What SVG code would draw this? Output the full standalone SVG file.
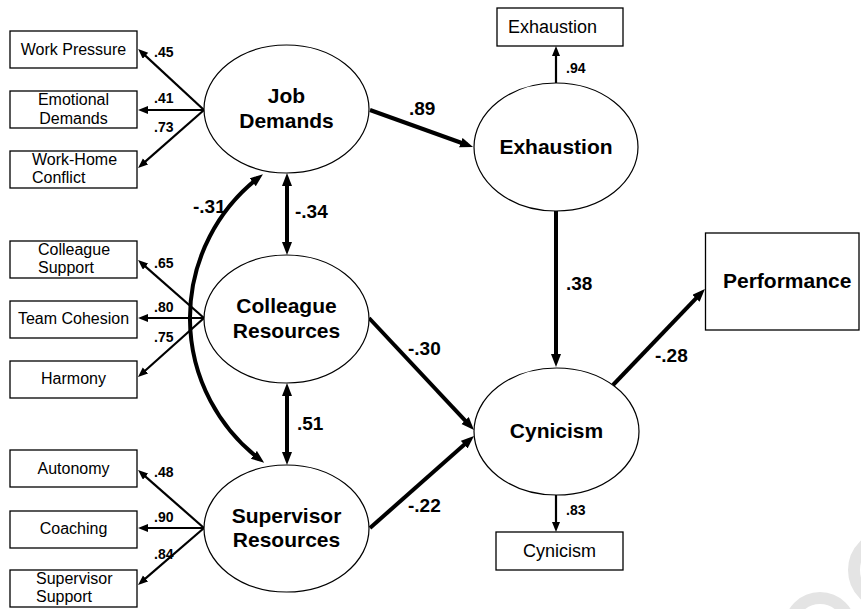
<svg xmlns="http://www.w3.org/2000/svg" width="861" height="609" viewBox="0 0 861 609">
<style>
text{font-family:"Liberation Sans",Arial,sans-serif;fill:#000}
.box{fill:#fff;stroke:#000;stroke-width:1.3}
.lat{fill:#fff;stroke:#000;stroke-width:1.2}
.ind{font-size:16px}
.ind2{font-size:18px}
.latt{font-size:21px;font-weight:bold;text-anchor:middle}
.perf{font-size:21px;font-weight:bold}
.ws{font-size:14px;font-weight:bold}
.wb{font-size:19px;font-weight:bold}
.thin{fill:none;stroke:#000;stroke-width:2.2;marker-end:url(#ahs)}
.thick{fill:none;stroke:#000;stroke-width:4;marker-end:url(#ah)}
.dbl{fill:none;stroke:#000;stroke-width:4;marker-start:url(#ah);marker-end:url(#ah)}
.wm{fill:none;stroke:#e4e4e4;stroke-width:12}
</style>
<defs>
<marker id="ah" markerUnits="userSpaceOnUse" markerWidth="14" markerHeight="11" refX="7" refY="5" orient="auto-start-reverse">
<path d="M0,0 L13,5 L0,10 z" fill="#000"/>
</marker>
<marker id="ahs" markerUnits="userSpaceOnUse" markerWidth="11" markerHeight="9" refX="5" refY="4" orient="auto-start-reverse">
<path d="M0,0 L10,4 L0,8 z" fill="#000"/>
</marker>
</defs>
<rect width="861" height="609" fill="#fff"/>
<g id="watermark">
<circle class="wm" cx="820" cy="628" r="30"/>
<circle class="wm" cx="888" cy="570" r="34"/>
</g>
<g id="connectors">
<path class="thin" d="M204,110 L141.8,52.4"/>
<path class="thin" d="M204,110 L143,110"/>
<path class="thin" d="M204,110 L141.8,164.7"/>
<path class="thin" d="M204,318 L141.8,263.3"/>
<path class="thin" d="M204,318 L143,318"/>
<path class="thin" d="M204,318 L141.7,373.7"/>
<path class="thin" d="M204,528 L141.8,473.3"/>
<path class="thin" d="M204,528 L143,528"/>
<path class="thin" d="M204,528 L141.8,581.7"/>
<path class="thick" d="M370,110 L467.4,145"/>
<path class="dbl" d="M287,179 L287,249"/>
<path class="dbl" d="M287,389 L287,459"/>
<path class="dbl" d="M258.2,177.9 A178 178 0 0 0 259.4,459.1"/>
<path class="thick" d="M556,211 L556,361"/>
<path class="thick" d="M369,318 L469.9,425.6"/>
<path class="thick" d="M370,528 L469.5,440"/>
<path class="thick" d="M613,385 L700.8,293.3"/>
<path class="thin" d="M556,83 L556,51"/>
<path class="thin" d="M556,495 L556,527"/>
<text class="ws" x="154" y="57">.45</text>
<text class="ws" x="154" y="103">.41</text>
<text class="ws" x="154" y="132">.73</text>
<text class="ws" x="154" y="268">.65</text>
<text class="ws" x="154" y="312">.80</text>
<text class="ws" x="154" y="342">.75</text>
<text class="ws" x="154" y="477">.48</text>
<text class="ws" x="154" y="522">.90</text>
<text class="ws" x="154" y="559">.84</text>
<text class="ws" x="566" y="73">.94</text>
<text class="ws" x="566" y="515">.83</text>
<text class="wb" x="409" y="115">.89</text>
<text class="wb" x="295" y="218">-.34</text>
<text class="wb" x="193" y="213">-.31</text>
<text class="wb" x="566" y="290">.38</text>
<text class="wb" x="408" y="355">-.30</text>
<text class="wb" x="297" y="430">.51</text>
<text class="wb" x="408" y="512">-.22</text>
<text class="wb" x="655" y="362">-.28</text>
</g>
<g id="work-pressure"><rect class="box" x="10" y="31" width="127" height="37"/><text class="ind" x="73.5" y="55" text-anchor="middle">Work Pressure</text></g>
<g id="emotional-demands"><rect class="box" x="10" y="91" width="127" height="37"/><text class="ind" x="73.5" y="105" text-anchor="middle">Emotional</text><text class="ind" x="73.5" y="124" text-anchor="middle">Demands</text></g>
<g id="work-home-conflict"><rect class="box" x="10" y="151" width="127" height="37"/><text class="ind" x="32" y="165">Work-Home</text><text class="ind" x="32" y="183">Conflict</text></g>
<g id="colleague-support"><rect class="box" x="10" y="241" width="127" height="37"/><text class="ind" x="38" y="255">Colleague</text><text class="ind" x="38" y="273">Support</text></g>
<g id="team-cohesion"><rect class="box" x="10" y="301" width="127" height="37"/><text class="ind" x="73.5" y="324" text-anchor="middle">Team Cohesion</text></g>
<g id="harmony"><rect class="box" x="10" y="361" width="127" height="37"/><text class="ind" x="73.5" y="384" text-anchor="middle">Harmony</text></g>
<g id="autonomy"><rect class="box" x="10" y="450" width="127" height="37"/><text class="ind" x="73.5" y="474" text-anchor="middle">Autonomy</text></g>
<g id="coaching"><rect class="box" x="10" y="511" width="127" height="37"/><text class="ind" x="73.5" y="534" text-anchor="middle">Coaching</text></g>
<g id="supervisor-support"><rect class="box" x="10" y="570" width="127" height="37"/><text class="ind" x="36" y="584">Supervisor</text><text class="ind" x="36" y="602">Support</text></g>
<g id="job-demands"><ellipse class="lat" cx="286.5" cy="109" rx="82.5" ry="64"/><text class="latt" x="286.5" y="103">Job</text><text class="latt" x="286.5" y="128">Demands</text></g>
<g id="colleague-resources"><ellipse class="lat" cx="286.5" cy="319" rx="82.5" ry="64"/><text class="latt" x="286.5" y="313">Colleague</text><text class="latt" x="286.5" y="338">Resources</text></g>
<g id="supervisor-resources"><ellipse class="lat" cx="286.5" cy="528.5" rx="82.5" ry="63.5"/><text class="latt" x="286.5" y="523">Supervisor</text><text class="latt" x="286.5" y="547">Resources</text></g>
<g id="exhaustion"><ellipse class="lat" cx="556" cy="147" rx="82" ry="64"/><text class="latt" x="556" y="154">Exhaustion</text></g>
<g id="cynicism"><ellipse class="lat" cx="556.5" cy="431.5" rx="82.5" ry="63.5"/><text class="latt" x="556.5" y="438">Cynicism</text></g>
<g id="exhaustion-indicator"><rect class="box" x="497" y="8" width="126" height="38"/><text class="ind2" x="508" y="33">Exhaustion</text></g>
<g id="cynicism-indicator"><rect class="box" x="496" y="532" width="127" height="38"/><text class="ind2" x="559.5" y="557" text-anchor="middle">Cynicism</text></g>
<g id="performance"><rect class="box" x="705.5" y="233" width="153.5" height="97"/><text class="perf" x="723" y="288">Performance</text></g>
</svg>
